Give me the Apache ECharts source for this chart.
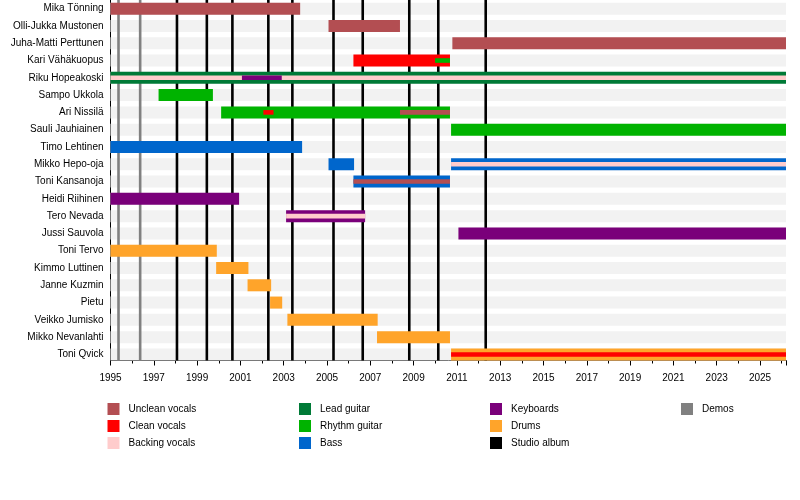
<!DOCTYPE html>
<html>
<head>
<meta charset="utf-8">
<script src="https://cdn.jsdelivr.net/npm/echarts@6/dist/echarts.min.js"></script>
<style>
  html, body { margin: 0; padding: 0; background: #fff; }
  #chart { width: 800px; height: 500px; }
</style>
</head>
<body>
<div id="chart"></div>
<script>
// ---------- data ----------
const START = 1995;
const NOW = 2026.2;

const members = [
  'Mika Tönning', 'Olli-Jukka Mustonen', 'Juha-Matti Perttunen', 'Kari Vähäkuopus',
  'Riku Hopeakoski', 'Sampo Ukkola', 'Ari Nissilä', 'Sauli Jauhiainen',
  'Timo Lehtinen', 'Mikko Hepo-oja', 'Toni Kansanoja', 'Heidi Riihinen',
  'Tero Nevada', 'Jussi Sauvola', 'Toni Tervo', 'Kimmo Luttinen',
  'Janne Kuzmin', 'Pietu', 'Veikko Jumisko', 'Mikko Nevanlahti', 'Toni Qvick'
];

const roles = [
  'Unclean vocals', 'Clean vocals', 'Backing vocals',
  'Lead guitar', 'Rhythm guitar', 'Bass',
  'Keyboards', 'Drums'
];

// main role spans: [member, role, from, to]
const mainSpans = [
  ['Mika Tönning', 'Unclean vocals', 1995, 2003.76],
  ['Olli-Jukka Mustonen', 'Unclean vocals', 2005.07, 2008.37],
  ['Juha-Matti Perttunen', 'Unclean vocals', 2010.79, NOW],
  ['Kari Vähäkuopus', 'Clean vocals', 2006.22, 2010.68],
  ['Riku Hopeakoski', 'Lead guitar', 1995, NOW],
  ['Sampo Ukkola', 'Rhythm guitar', 1997.22, 1999.73],
  ['Ari Nissilä', 'Rhythm guitar', 2000.11, 2010.68],
  ['Sauli Jauhiainen', 'Rhythm guitar', 2010.73, NOW],
  ['Timo Lehtinen', 'Bass', 1995, 2003.85],
  ['Mikko Hepo-oja', 'Bass', 2005.07, 2006.25],
  ['Mikko Hepo-oja', 'Bass', 2010.73, NOW],
  ['Toni Kansanoja', 'Bass', 2006.22, 2010.68],
  ['Heidi Riihinen', 'Keyboards', 1995, 2000.94],
  ['Tero Nevada', 'Keyboards', 2003.11, 2006.76],
  ['Jussi Sauvola', 'Keyboards', 2011.07, NOW],
  ['Toni Tervo', 'Drums', 1995, 1999.91],
  ['Kimmo Luttinen', 'Drums', 1999.88, 2001.37],
  ['Janne Kuzmin', 'Drums', 2001.33, 2002.42],
  ['Pietu', 'Drums', 2002.37, 2002.93],
  ['Veikko Jumisko', 'Drums', 2003.17, 2007.34],
  ['Mikko Nevanlahti', 'Drums', 2007.31, 2010.68],
  ['Toni Qvick', 'Drums', 2010.73, NOW]
];

// secondary role spans (drawn as a stripe inside the main bar)
const secondarySpans = [
  ['Kari Vähäkuopus', 'Rhythm guitar', 2009.99, 2010.68],
  ['Riku Hopeakoski', 'Backing vocals', 1995, NOW],
  ['Riku Hopeakoski', 'Keyboards', 2001.07, 2002.91],
  ['Ari Nissilä', 'Clean vocals', 2002.06, 2002.53],
  ['Ari Nissilä', 'Unclean vocals', 2008.37, 2010.68],
  ['Mikko Hepo-oja', 'Backing vocals', 2010.73, NOW],
  ['Toni Kansanoja', 'Unclean vocals', 2006.22, 2010.68],
  ['Tero Nevada', 'Backing vocals', 2003.11, 2006.76],
  ['Toni Qvick', 'Clean vocals', 2010.73, NOW]
];

const studioAlbums = [1998.07, 1999.45, 2000.63, 2002.29, 2003.40, 2005.30, 2006.65, 2008.80, 2010.14, 2012.33];
const demos = [1995.37, 1996.37];

// ---------- styles ----------
const roleColor = {
  'Unclean vocals': '#b34e52',
  'Clean vocals': '#ff0000',
  'Backing vocals': '#ffcccc',
  'Lead guitar': '#007a37',
  'Rhythm guitar': '#00b300',
  'Bass': '#0066cc',
  'Keyboards': '#7a007a',
  'Drums': '#ffa42a',
  'Studio album': '#000000',
  'Demos': '#808080'
};
const BAR_H = 12;
const STRIPE_H = 4.6;
const FONT = "'Liberation Sans', Arial, Helvetica, sans-serif";

// ---------- build ----------
const chart = echarts.init(document.getElementById('chart'), null, { renderer: 'canvas' });

function spanRenderer(params, api) {
  const row = api.value(0);
  const p0 = api.coord([api.value(1), row]);
  const p1 = api.coord([api.value(2), row]);
  const inner = api.value(3) === 1;
  const h = inner ? STRIPE_H : BAR_H;
  return {
    type: 'rect',
    z2: inner ? 10 : 0,
    shape: { x: p0[0], y: p0[1] - h / 2, width: p1[0] - p0[0], height: h },
    style: { fill: api.visual('color') }
  };
}

function lineRenderer(params, api) {
  const x = api.coord([api.value(0), 0])[0];
  const yBottom = api.coord([0, members.length - 1])[1] + BAR_H / 2;
  return {
    type: 'line',
    shape: { x1: x, y1: params.coordSys.y, x2: x, y2: yBottom },
    style: { stroke: api.visual('color'), lineWidth: 2.6 }
  };
}

const series = [];

// background stripes
series.push({
  type: 'custom',
  name: 'rows',
  silent: true,
  z: 1,
  renderItem: function (params, api) {
    const y = api.coord([0, api.value(0)])[1];
    const cs = params.coordSys;
    return {
      type: 'rect',
      shape: { x: cs.x, y: y - BAR_H / 2, width: cs.width, height: BAR_H },
      style: { fill: '#f2f2f2' }
    };
  },
  encode: { y: 0 },
  data: members.map((m, i) => [i])
});

// album / demo lines
[['Studio album', studioAlbums], ['Demos', demos]].forEach(([name, years]) => {
  series.push({
    type: 'custom',
    name: name,
    z: 2,
    itemStyle: { color: roleColor[name] },
    renderItem: lineRenderer,
    encode: { x: 0 },
    data: years.map(y => [y - START])
  });
});

// role spans
roles.forEach(role => {
  const data = [];
  mainSpans.filter(s => s[1] === role).forEach(s => data.push([members.indexOf(s[0]), s[2] - START, s[3] - START, 0]));
  secondarySpans.filter(s => s[1] === role).forEach(s => data.push([members.indexOf(s[0]), s[2] - START, s[3] - START, 1]));
  series.push({
    type: 'custom',
    name: role,
    z: 3,
    itemStyle: { color: roleColor[role] },
    renderItem: spanRenderer,
    encode: { x: [1, 2], y: 0 },
    data: data
  });
});

const legendBase = {
  orient: 'vertical',
  top: 403,
  padding: 0,
  itemWidth: 12,
  itemHeight: 12,
  itemGap: 5,
  icon: 'rect',
  selectedMode: false,
  textStyle: { fontSize: 10, color: '#000', fontFamily: FONT, lineHeight: 12, padding: [0, 0, 0, 4] }
};

const option = {
  animation: false,
  backgroundColor: '#ffffff',
  textStyle: { fontFamily: FONT },
  grid: { left: 110.5, right: 14, top: -2.9, height: 366, containLabel: false },
  xAxis: {
    type: 'value',
    min: 0,
    max: NOW - START,
    interval: 2,
    offset: -2.6,
    axisLine: { show: true, lineStyle: { color: '#000', width: 1 } },
    axisTick: { show: true, length: 5, lineStyle: { color: '#000' } },
    minorTick: { show: true, splitNumber: 2, length: 3, lineStyle: { color: '#000' } },
    splitLine: { show: false },
    axisLabel: {
      fontSize: 10, color: '#000', fontFamily: FONT, margin: 13,
      showMaxLabel: false,
      formatter: v => (Math.abs(v - Math.round(v)) < 1e-6 ? String(Math.round(v) + START) : '')
    }
  },
  yAxis: {
    type: 'category',
    inverse: true,
    data: members,
    axisLine: { show: true, lineStyle: { color: '#000', width: 1 } },
    axisTick: { show: false },
    splitLine: { show: false },
    axisLabel: { fontSize: 10, color: '#000', fontFamily: FONT, margin: 7 }
  },
  legend: [
    Object.assign({}, legendBase, { left: 107.5, data: ['Unclean vocals', 'Clean vocals', 'Backing vocals'] }),
    Object.assign({}, legendBase, { left: 299, data: ['Lead guitar', 'Rhythm guitar', 'Bass'] }),
    Object.assign({}, legendBase, { left: 490, data: ['Keyboards', 'Drums', 'Studio album'] }),
    Object.assign({}, legendBase, { left: 681, data: ['Demos'] })
  ],
  series: series
};

chart.setOption(option);
</script>
</body>
</html>
